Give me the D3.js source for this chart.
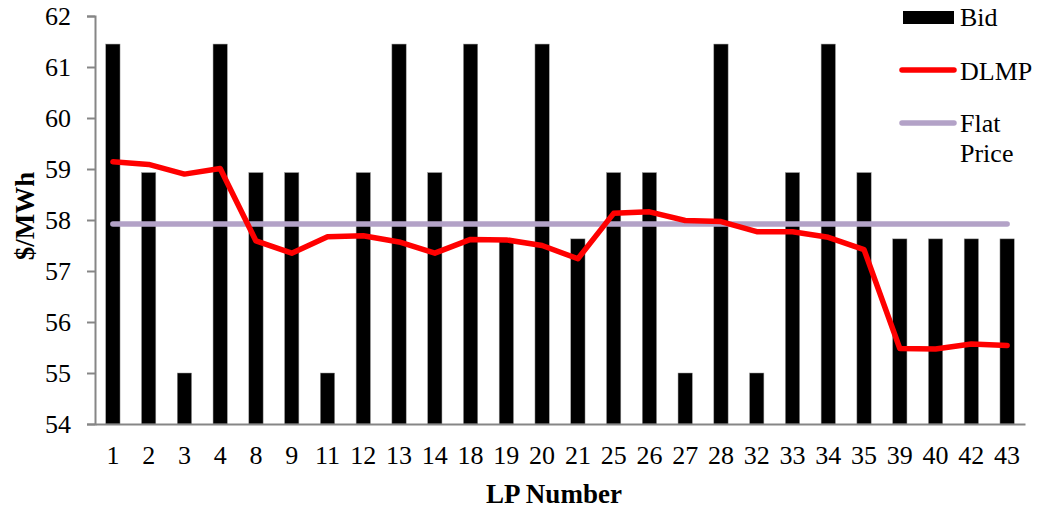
<!DOCTYPE html>
<html>
<head>
<meta charset="utf-8">
<script src="https://cdn.jsdelivr.net/npm/d3@7"></script>
<style>
  html, body { margin: 0; padding: 0; background: #fff; }
  svg text { font-family: "Liberation Serif", "Times New Roman", Times, "DejaVu Serif", serif !important; }
</style>
</head>
<body>
<svg id="chart" width="1037" height="510"></svg>
<script>
const categories = ["1","2","3","4","8","9","11","12","13","14","18","19","20","21","25","26","27","28","32","33","34","35","39","40","42","43"];
const bid = [61.45,58.93,55,61.45,58.93,58.93,55,58.93,61.45,58.93,61.45,57.63,61.45,57.63,58.93,58.93,55,61.45,55,58.93,61.45,58.93,57.63,57.63,57.63,57.63];
const dlmp = [59.14,59.09,58.90,59.01,57.59,57.35,57.67,57.69,57.57,57.35,57.62,57.61,57.50,57.24,58.13,58.16,57.99,57.97,57.77,57.77,57.66,57.42,55.48,55.47,55.57,55.54];
const flatPrice = 57.92;
const yTicks = [54,55,56,57,58,59,60,61,62];
const legendLabels = ["Bid", "DLMP", ["Flat", "Price"]];

const svg = d3.select("#chart");
const mLeft = 95, mRight = 1025, mTop = 16, mBottom = 424;
const axisColor = "#868686";

const x = d3.scaleBand().domain(categories).range([mLeft, mRight]).paddingInner(0.6).paddingOuter(0.3);
const xc = d3.scalePoint().domain(categories).range([mLeft, mRight]).padding(0.5);
const y = d3.scaleLinear().domain([54, 62]).range([mBottom, mTop]);

// bars
svg.append("g").selectAll("rect").data(categories).join("rect")
  .attr("x", d => x(d))
  .attr("width", x.bandwidth())
  .attr("y", (d, i) => y(bid[i]))
  .attr("height", (d, i) => y(54) - y(bid[i]))
  .attr("fill", "#000")
  .attr("stroke", "#999")
  .attr("stroke-width", 0.5);

// flat price line
svg.append("path")
  .datum(categories)
  .attr("d", d3.line().x(d => xc(d)).y(() => y(flatPrice)))
  .attr("fill", "none")
  .attr("stroke", "#b3a2c7")
  .attr("stroke-width", 5.5)
  .attr("stroke-linecap", "round");

// DLMP line
svg.append("path")
  .datum(categories)
  .attr("d", d3.line().x(d => xc(d)).y((d, i) => y(dlmp[i])))
  .attr("fill", "none")
  .attr("stroke", "#ff0000")
  .attr("stroke-width", 5.5)
  .attr("stroke-linejoin", "round")
  .attr("stroke-linecap", "round");

// y axis
const yAxis = svg.append("g").attr("transform", `translate(${mLeft},0)`)
  .call(d3.axisLeft(y).tickValues(yTicks).tickSize(8).tickPadding(16).tickFormat(d3.format("d")));
yAxis.select(".domain").attr("stroke", axisColor).attr("stroke-width", 2);
yAxis.selectAll(".tick line").attr("stroke", axisColor).attr("stroke-width", 2);
yAxis.selectAll(".tick text").attr("font-size", 26).attr("fill", "#000");

// x axis
const xAxis = svg.append("g").attr("transform", `translate(0,${mBottom})`)
  .call(d3.axisBottom(x).tickSize(0).tickPadding(22));
xAxis.select(".domain").attr("stroke", axisColor).attr("stroke-width", 2);
xAxis.selectAll(".tick text").attr("font-size", 26).attr("fill", "#000");

// axis titles
svg.append("text")
  .attr("x", 554).attr("y", 503)
  .attr("text-anchor", "middle")
  .attr("font-size", 27).attr("font-weight", "bold")
  .text("LP Number");

svg.append("text")
  .attr("transform", "translate(34,216) rotate(-90)")
  .attr("text-anchor", "middle")
  .attr("font-size", 27).attr("font-weight", "bold")
  .text("$/MWh");

// legend
const lg = svg.append("g");
lg.append("rect").attr("x", 903).attr("y", 11).attr("width", 51).attr("height", 13).attr("fill", "#000");
lg.append("text").attr("x", 960).attr("y", 26).attr("font-size", 26).text(legendLabels[0]);
lg.append("line").attr("x1", 902).attr("x2", 954).attr("y1", 70).attr("y2", 70)
  .attr("stroke", "#ff0000").attr("stroke-width", 5.5).attr("stroke-linecap", "round");
lg.append("text").attr("x", 960).attr("y", 80).attr("font-size", 26).text(legendLabels[1]);
lg.append("line").attr("x1", 902).attr("x2", 954).attr("y1", 123).attr("y2", 123)
  .attr("stroke", "#b3a2c7").attr("stroke-width", 5.5).attr("stroke-linecap", "round");
lg.append("text").attr("x", 960).attr("y", 132).attr("font-size", 26).text(legendLabels[2][0]);
lg.append("text").attr("x", 960).attr("y", 162).attr("font-size", 26).text(legendLabels[2][1]);
</script>
</body>
</html>
